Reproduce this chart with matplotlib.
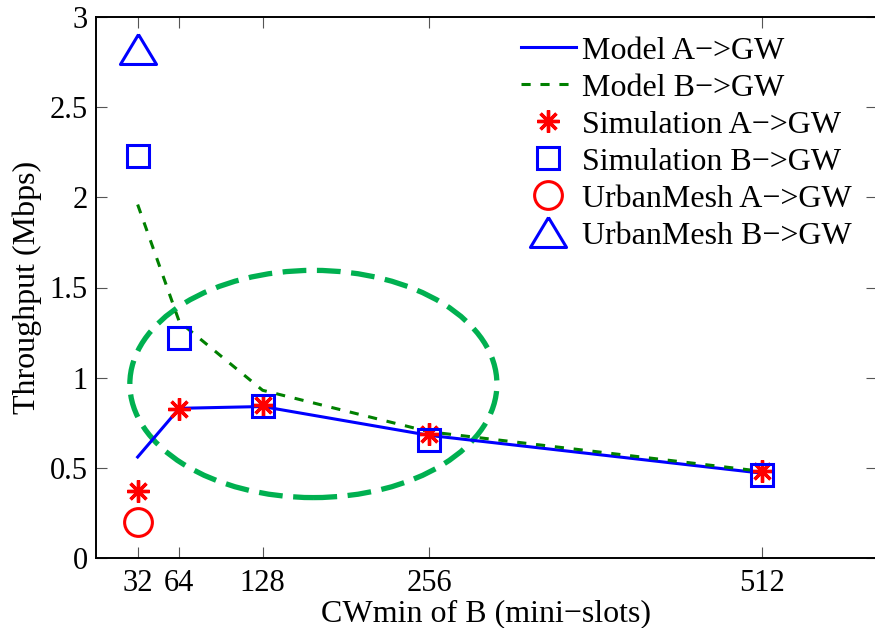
import numpy as np
import matplotlib
matplotlib.use('Agg')
import matplotlib.pyplot as plt
from matplotlib.patches import Ellipse

plt.rcParams['font.family'] = ['Liberation Serif', 'DejaVu Serif']
plt.rcParams['font.size'] = 23

# === Data ===
cw = [32, 64, 128, 256, 512]
model_a = [0.56, 0.83, 0.84, 0.68, 0.47]
model_b = [1.96, 1.31, 0.93, 0.70, 0.48]
sim_a = [0.37, 0.825, 0.85, 0.69, 0.48]
sim_b = [2.23, 1.22, 0.845, 0.655, 0.46]
urban_x = [32]
urban_a = [0.20]
urban_b = [2.82]

# highlighted region (center x, center y, width, height)
ell_center = (167, 0.965)
ell_w, ell_h = 282, 1.26

xticks = [32, 64, 128, 256, 512]
yticks = [0, 0.5, 1, 1.5, 2, 2.5, 3]

fig = plt.figure(figsize=(8.75, 6.28), dpi=100)
# right spine sits just past the picture edge, as in the original crop
ax = fig.add_axes([96/875, 70/628, 781/875, 541/628])

ax.plot(cw, model_a, '-', color='#0000ff', lw=2.2, label='Model A−>GW')
ax.plot(cw, model_b, '--', color='#008000', lw=2.2, dashes=(3, 3.2), label='Model B−>GW')
ax.plot(cw, sim_a, ls='none', marker=(8, 2, 0), ms=16, mew=2.4, color='#ff0000',
        label='Simulation A−>GW')
ax.plot(cw, sim_b, ls='none', marker='s', ms=16, mew=2.2, mfc='none', mec='#0000ff',
        label='Simulation B−>GW')
ax.plot(urban_x, urban_a, ls='none', marker='o', ms=20, mew=2.2, mfc='none', mec='#ff0000',
        label='UrbanMesh A−>GW')
tri = [(0, 0.83), (-1, -0.83), (1, -0.83), (0, 0.83)]
ax.plot(urban_x, urban_b, ls='none', marker=tri, ms=26, mew=2.2, mfc='none', mec='#0000ff',
        label='UrbanMesh B−>GW')

ell = Ellipse(ell_center, ell_w, ell_h, fill=False, ec='#00b050', lw=3.8,
              ls=(0, (4.5, 2)))
ax.add_patch(ell)

ax.set_xlim(0, 600)
ax.set_ylim(0, 3)
ax.set_xticks(xticks)
ax.set_yticks(yticks)
ax.set_yticklabels(['0', '0.5', '1', '1.5', '2', '2.5', '3'])
ax.tick_params(direction='in', length=8, width=0.8, top=True, right=True,
               color='#555555', labelsize=22)
ax.tick_params(axis='x', pad=8)
ax.tick_params(axis='y', pad=6)
for s in ax.spines.values():
    s.set_linewidth(1.4)

fig.text(486/875, 1 - 621/628, 'CWmin of B (mini−slots)', ha='center', va='baseline',
         fontsize=23)
fig.text(27/875, 1 - 287/628, 'Throughput (Mbps)', ha='center', va='center',
         rotation=90, fontsize=23)

leg = ax.legend(loc='upper left', bbox_to_anchor=(0.52, 1.0), frameon=False,
                fontsize=23, handlelength=1.7, handletextpad=0.2,
                labelspacing=0.24, borderaxespad=0.2)

fig.savefig('out.png', dpi=100)
